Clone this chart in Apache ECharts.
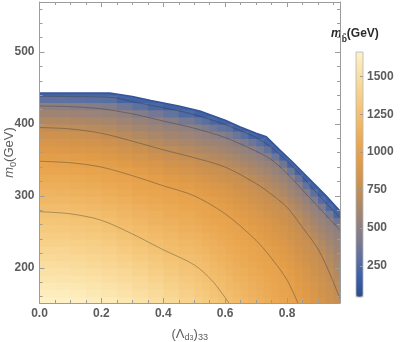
<!DOCTYPE html>
<html>
<head>
<meta charset="utf-8">
<script src="https://cdn.jsdelivr.net/npm/echarts@6/dist/echarts.min.js"></script>
<style>
html,body{margin:0;padding:0;background:#fff}
#main{width:401px;height:342px}
</style>
</head>
<body>
<div id="main"></div>
<script>
// sbottom mass (GeV)
// columns: lambda edges (0.05 wide up to 0.5, then 0.025), rows: 10 GeV cells centred at m0
var lamEdges = [0,0.05,0.1,0.15,0.2,0.25,0.3,0.35,0.4,0.45,0.5,0.525,0.55,0.575,0.6,0.625,0.65,0.675,0.7,0.725,0.75,0.775,0.8,0.825,0.85,0.875,0.9,0.925,0.95,0.975];
var m0Centers = [155,165,175,185,195,205,215,225,235,245,255,265,275,285,295,305,315,325,335,345,355,365,375,385,395,405,415,425,435,445];
// one list per lambda column, from m0=155 upwards, stops where the plot turns white
var mbByColumn = [
 [1646,1614,1582,1550,1517,1485,1453,1421,1388,1356,1324,1292,1260,1225,1189,1154,1118,1082,1046,1011,963,910,856,803,750,667,583,500,308,200],
 [1641,1609,1577,1545,1512,1480,1448,1416,1384,1351,1319,1287,1255,1220,1184,1149,1113,1078,1043,1007,957,904,851,798,745,663,577,489,307,200],
 [1630,1598,1566,1533,1501,1469,1437,1405,1372,1340,1308,1276,1243,1208,1173,1137,1102,1067,1032,995,943,891,839,786,726,647,568,476,301,200],
 [1613,1581,1549,1517,1485,1453,1422,1390,1358,1326,1295,1263,1229,1194,1160,1125,1090,1056,1021,979,927,875,823,771,705,631,556,459,293,200],
 [1591,1559,1528,1496,1464,1432,1400,1368,1336,1304,1272,1240,1207,1173,1140,1107,1073,1040,1007,958,906,854,802,750,681,611,542,438,284,200],
 [1564,1531,1498,1465,1433,1400,1368,1335,1302,1270,1238,1206,1175,1144,1113,1081,1050,1019,979,927,875,823,771,710,642,575,508,369,210,230],
 [1531,1498,1465,1433,1400,1367,1335,1302,1270,1238,1208,1178,1148,1117,1087,1057,1027,995,944,893,842,791,737,672,607,542,448,305,200],
 [1492,1460,1428,1397,1365,1333,1301,1269,1238,1209,1180,1151,1122,1093,1064,1035,1006,960,910,860,810,760,699,636,574,511,384,238,200],
 [1449,1418,1388,1357,1327,1296,1265,1236,1208,1181,1153,1125,1097,1069,1042,1014,975,926,877,828,779,726,664,603,542,458,323,200],
 [1400,1373,1346,1318,1291,1264,1237,1210,1183,1156,1129,1102,1075,1048,1022,991,943,896,849,802,755,695,634,573,512,390,255,200],
 [1361,1337,1314,1290,1266,1242,1216,1189,1163,1137,1111,1084,1058,1032,1005,963,917,871,825,779,728,667,606,545,466,334,200],
 [1333,1310,1287,1264,1240,1215,1190,1165,1140,1114,1089,1064,1039,1014,981,937,894,850,807,763,708,647,586,525,421,287,200],
 [1302,1281,1259,1236,1212,1188,1165,1141,1117,1093,1070,1046,1022,998,956,915,874,833,791,749,688,627,566,505,376,228,240],
 [1271,1250,1228,1206,1184,1161,1139,1117,1095,1073,1051,1029,1007,972,933,894,855,815,776,729,668,607,546,467,330,200],
 [1239,1218,1197,1177,1156,1135,1115,1094,1073,1053,1032,1011,983,945,908,870,833,795,758,702,642,582,522,412,302,200],
 [1211,1191,1171,1151,1131,1111,1092,1072,1052,1032,1012,986,950,915,879,844,808,773,729,670,611,552,485,349,210,240],
 [1182,1164,1145,1126,1107,1088,1070,1051,1032,1013,990,956,922,888,854,820,786,752,696,639,581,524,421,287,200],
 [1155,1137,1119,1102,1084,1066,1049,1031,1013,992,960,927,895,863,830,798,766,721,665,609,553,492,360,210,240],
 [1127,1111,1094,1078,1061,1045,1028,1012,991,960,929,899,868,837,806,776,741,686,631,577,522,419,284,200],
 [1099,1083,1068,1053,1037,1022,1006,983,954,925,896,868,839,810,781,752,701,648,595,542,471,329,210,240],
 [1071,1057,1043,1029,1015,1001,974,947,920,893,866,838,811,784,757,711,658,606,554,502,357,210,240],
 [1043,1031,1019,1007,989,963,937,912,886,861,835,810,784,759,716,663,610,557,504,365,210,240],
 [1016,1006,992,968,944,921,897,873,850,826,802,778,755,709,657,605,553,502,359,210,240],
 [979,958,936,915,894,873,852,830,809,788,767,740,691,642,593,543,483,342,210,240],
 [934,914,895,875,855,836,816,796,777,757,720,673,627,580,534,462,320,200,240],
 [890,872,854,836,819,801,783,765,743,700,656,613,569,525,439,294,200,240],
 [847,831,815,798,782,766,749,710,671,633,594,555,517,416,269,200,240],
 [802,788,774,760,741,708,675,642,609,576,542,509,394,246,200,240],
 [760,751,725,697,669,642,614,586,558,531,503,373,222,200]
];
// contour lines [lambda, m0]
var contour1250 = [[0,278],[0.1,275],[0.2,266],[0.3,247],[0.4,225],[0.5,204],[0.56,181],[0.612,151]];
var contour1000 = [[0,348],[0.1,346],[0.2,340],[0.3,328],[0.4,314],[0.5,300],[0.6,275],[0.7,238],[0.75,213],[0.8,183],[0.835,151]];
var contour750 = [[0,395],[0.1,393],[0.2,387],[0.3,376],[0.4,364],[0.5,353],[0.6,340],[0.7,317],[0.75,302],[0.8,284],[0.85,256],[0.9,226],[0.94,190],[0.97,158]];
var contour500 = [[0,425],[0.1,424],[0.2,421],[0.3,414],[0.4,404],[0.5,394],[0.6,381],[0.7,362],[0.75,350],[0.8,331],[0.85,308],[0.9,285],[0.95,262],[0.971,252]];
var contour250 = [[0,438.5],[0.1,438],[0.2,437.5],[0.25,436],[0.3,431],[0.4,422.5],[0.5,413],[0.6,399],[0.7,381],[0.75,367],[0.8,348],[0.85,326],[0.9,302],[0.95,279],[0.971,270]];
// edge of the allowed region, white above it
var boundary = [[0,443],[0.227,443],[0.3,438],[0.36,432.5],[0.45,425],[0.518,418],[0.6,405],[0.647,396],[0.7,387],[0.733,382],[0.776,364],[0.82,346],[0.873,323],[0.926,300],[0.971,279]];

var xMajorTicks = [0,0.2,0.4,0.6,0.8];
var xMinorTicks = [0.05,0.1,0.15,0.25,0.3,0.35,0.45,0.5,0.55,0.65,0.7,0.75,0.85,0.9,0.95];
var yMajorTicks = [200,300,400,500];
var yMinorTicks = [160,180,220,240,260,280,320,340,360,380,420,440,460,480,520,540,560];
var barTicks = [250,500,750,1000,1250,1500];
var xMin = 0, xMax = 0.971, yMin = 151, yMax = 569.5;
var barMin = 45, barMax = 1660;

var frameColor = '#9c9c9c';
var labelColor = '#5c5c5c';
var fontFam = 'Liberation Sans, Arial, sans-serif';
var barColors = ['#2b4e8e','#3a5ea6','#5a70a2','#7d7b8e','#97827a','#b08964','#cc914f','#df9a48','#e9a54e','#efb562','#f4c577','#f8d48f','#fbe3aa','#fff2c8'];

var halfM0 = (m0Centers[1] - m0Centers[0]) / 2;
var cells = [];
for (var j = 0; j < mbByColumn.length; j++) {
  for (var i = 0; i < mbByColumn[j].length; i++) {
    cells.push([lamEdges[j], m0Centers[i] - halfM0, lamEdges[j + 1], m0Centers[i] + halfM0, mbByColumn[j][i]]);
  }
}

function renderCell(params, api) {
  var a = api.coord([api.value(0), api.value(3)]);
  var b = api.coord([api.value(2), api.value(1)]);
  return {
    type: 'rect',
    shape: {x: a[0], y: a[1], width: b[0] - a[0] + 0.7, height: b[1] - a[1] + 0.7},
    style: {fill: api.visual('color')}
  };
}

function richFor(size, color) {
  return {
    n: {fontSize: size, fontFamily: fontFam, color: color, lineHeight: 16},
    i: {fontSize: size, fontFamily: fontFam, color: color, fontStyle: 'italic', lineHeight: 16},
    s: {fontSize: size * 0.7, fontFamily: fontFam, color: color, lineHeight: 10, verticalAlign: 'bottom'},
    ss: {fontSize: size * 0.55, fontFamily: fontFam, color: color, lineHeight: 7, verticalAlign: 'bottom'}
  };
}

function tickAxis(grid, pos, min, max, ticks, len, showLine, extra) {
  var ax = {
    gridIndex: grid, type: 'value', position: pos, min: min, max: max, z: 10, offset: 0,
    axisLine: {show: true, onZero: false, lineStyle: {color: showLine ? frameColor : 'rgba(0,0,0,0)', width: 1}},
    axisTick: {show: true, inside: true, length: len, customValues: ticks, lineStyle: {color: frameColor, width: 1}},
    axisLabel: {show: false},
    splitLine: {show: false}
  };
  for (var k in extra) ax[k] = extra[k];
  return ax;
}

var lineSeries = function (data) {
  return {type: 'line', data: data, showSymbol: false, smooth: 0.3, silent: true, z: 3,
    lineStyle: {color: 'rgba(45,45,45,0.45)', width: 0.8}};
};

var chart = echarts.init(document.getElementById('main'));
chart.setOption({
  animation: false,
  backgroundColor: '#fff',
  title: {
    text: '{i|m}{s|b\u0303}{n|(GeV)}',
    left: 331, top: 24, padding: 0,
    textStyle: {rich: {
      i: {fontSize: 12, fontFamily: fontFam, fontWeight: 'bold', fontStyle: 'italic', color: '#2a2a2a', lineHeight: 20},
      s: {fontSize: 8.5, fontFamily: fontFam, fontWeight: 'bold', color: '#2a2a2a', lineHeight: 12, verticalAlign: 'bottom'},
      n: {fontSize: 12, fontFamily: fontFam, fontWeight: 'bold', color: '#2a2a2a', lineHeight: 20}
    }}
  },
  grid: [
    {left: 39.5, top: 2, width: 300.5, height: 301, containLabel: false, outerBoundsMode: 'none'},
    {left: 356, top: 52, width: 7, height: 245, show: true, borderColor: '#b5b5b5', borderWidth: 0.8, z: 6,
      containLabel: false, outerBoundsMode: 'none'},
    {left: 39.5, top: 2, width: 300.5, height: 301, containLabel: false, outerBoundsMode: 'none'}
  ],
  xAxis: [
    tickAxis(0, 'bottom', xMin, xMax, xMajorTicks, 5, true, {
      axisLabel: {show: true, customValues: xMajorTicks, margin: 5, color: labelColor, fontSize: 12,
        fontWeight: 'bold', fontFamily: fontFam, formatter: function (v) { return v.toFixed(1); }},
      name: '{n|(Λ}{s|d}{ss|3}{n|)}{s|33}', nameLocation: 'middle', nameGap: 23, nameMoveOverlap: false,
      nameTextStyle: {rich: richFor(13, labelColor)}
    }),
    tickAxis(0, 'top', xMin, xMax, xMajorTicks, 5, true, {}),
    {gridIndex: 1, type: 'value', min: 0, max: 1, show: false},
    tickAxis(2, 'bottom', xMin, xMax, xMinorTicks, 3, false, {}),
    tickAxis(2, 'top', xMin, xMax, xMinorTicks, 3, false, {})
  ],
  yAxis: [
    tickAxis(0, 'left', yMin, yMax, yMajorTicks, 5, true, {
      axisLabel: {show: true, customValues: yMajorTicks, margin: 5, color: labelColor, fontSize: 12,
        fontWeight: 'bold', fontFamily: fontFam},
      name: '{i|m}{s|0}{n|(GeV)}', nameLocation: 'middle', nameGap: 22, nameRotate: 90, nameMoveOverlap: false,
      nameTextStyle: {rich: richFor(13, labelColor)}
    }),
    tickAxis(0, 'right', yMin, yMax, yMajorTicks, 5, true, {}),
    tickAxis(1, 'right', barMin, barMax, barTicks, 3, false, {
      axisLabel: {show: true, customValues: barTicks, margin: 4, color: labelColor, fontSize: 12,
        fontWeight: 'bold', fontFamily: fontFam, formatter: function (v) { return String(v); }}
    }),
    tickAxis(2, 'left', yMin, yMax, yMinorTicks, 3, false, {}),
    tickAxis(2, 'right', yMin, yMax, yMinorTicks, 3, false, {})
  ],
  visualMap: {
    type: 'continuous', min: barMin, max: barMax, dimension: 4, seriesIndex: 0,
    orient: 'vertical', left: 356, top: 52, itemWidth: 7, itemHeight: 245, padding: 0,
    calculable: false, hoverLink: false, text: null,
    inRange: {color: barColors}
  },
  series: [
    {type: 'custom', xAxisIndex: 0, yAxisIndex: 0, renderItem: renderCell, data: cells,
      encode: {x: [0, 2], y: [1, 3]}, clip: true, silent: true, z: 1},
    lineSeries(contour1250),
    lineSeries(contour1000),
    lineSeries(contour750),
    lineSeries(contour500),
    lineSeries(contour250),
    {type: 'line', data: boundary, showSymbol: false, silent: true, z: 4,
      lineStyle: {width: 0}, areaStyle: {color: '#fff', opacity: 1, origin: 'end'}},
    {type: 'line', data: boundary, showSymbol: false, silent: true, z: 5,
      lineStyle: {color: '#33559a', width: 1.6}}
  ]
});
</script>
</body>
</html>
